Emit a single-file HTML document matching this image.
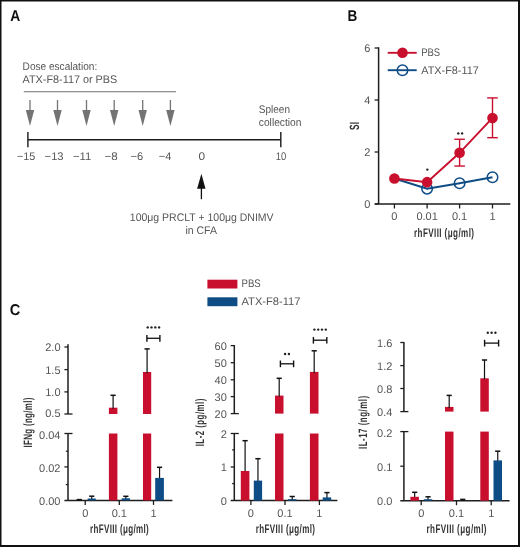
<!DOCTYPE html>
<html><head><meta charset="utf-8">
<style>
html,body{margin:0;padding:0;background:#fff;}
body{width:520px;height:547px;overflow:hidden;}
svg{display:block;will-change:transform;font-family:"Liberation Sans",sans-serif;text-rendering:geometricPrecision;}
.t{fill:#555555;font-size:11px;}
.lb{fill:#111;font-weight:bold;font-size:15.6px;}
.cb{fill:#333;font-weight:bold;font-size:11px;}
</style></head>
<body>
<svg width="520" height="547" viewBox="0 0 520 547">
<rect x="0" y="0" width="520" height="547" fill="#fff"/>
<rect x="0" y="0" width="520" height="1.5" fill="#111"/>
<rect x="0" y="0" width="1.5" height="547" fill="#111"/>
<rect x="518" y="0" width="2" height="547" fill="#111"/>
<rect x="0" y="545" width="520" height="2" fill="#111"/>

<text class="lb" x="10.2" y="21" textLength="10.0" lengthAdjust="spacingAndGlyphs">A</text>
<text class="t" x="22.6" y="69.7" textLength="74.6" lengthAdjust="spacingAndGlyphs">Dose escalation:</text>
<text class="t" x="22.6" y="82.8" textLength="94.6" lengthAdjust="spacingAndGlyphs">ATX-F8-117 or PBS</text>
<line x1="23.80" y1="91.70" x2="176.00" y2="91.70" stroke="#707070" stroke-width="1.1"/>
<line x1="30.00" y1="100.00" x2="30.00" y2="111.00" stroke="#747474" stroke-width="1.3"/>
<polygon points="25.80,110 34.20,110 30.00,126" fill="#747474"/>
<line x1="57.50" y1="100.00" x2="57.50" y2="111.00" stroke="#747474" stroke-width="1.3"/>
<polygon points="53.30,110 61.70,110 57.50,126" fill="#747474"/>
<line x1="86.50" y1="100.00" x2="86.50" y2="111.00" stroke="#747474" stroke-width="1.3"/>
<polygon points="82.30,110 90.70,110 86.50,126" fill="#747474"/>
<line x1="114.20" y1="100.00" x2="114.20" y2="111.00" stroke="#747474" stroke-width="1.3"/>
<polygon points="110.00,110 118.40,110 114.20,126" fill="#747474"/>
<line x1="142.70" y1="100.00" x2="142.70" y2="111.00" stroke="#747474" stroke-width="1.3"/>
<polygon points="138.50,110 146.90,110 142.70,126" fill="#747474"/>
<line x1="170.40" y1="100.00" x2="170.40" y2="111.00" stroke="#747474" stroke-width="1.3"/>
<polygon points="166.20,110 174.60,110 170.40,126" fill="#747474"/>
<line x1="27.90" y1="139.70" x2="280.80" y2="139.70" stroke="#1a1a1a" stroke-width="1.6"/>
<line x1="27.90" y1="132.00" x2="27.90" y2="147.20" stroke="#1a1a1a" stroke-width="1.4"/>
<line x1="280.80" y1="132.00" x2="280.80" y2="147.20" stroke="#1a1a1a" stroke-width="1.4"/>
<text class="t" x="17" y="160.2" textLength="18.4" lengthAdjust="spacingAndGlyphs">−15</text>
<text class="t" x="44.6" y="160.2" textLength="19" lengthAdjust="spacingAndGlyphs">−13</text>
<text class="t" x="73" y="160.2" textLength="18.4" lengthAdjust="spacingAndGlyphs">−11</text>
<text class="t" x="104.6" y="160.2" textLength="13.2" lengthAdjust="spacingAndGlyphs">−8</text>
<text class="t" x="130.6" y="160.2" textLength="12.6" lengthAdjust="spacingAndGlyphs">−6</text>
<text class="t" x="158.7" y="160.2" textLength="12.6" lengthAdjust="spacingAndGlyphs">−4</text>
<text class="t" x="198.6" y="160.2" textLength="6.6" lengthAdjust="spacingAndGlyphs">0</text>
<text class="t" x="275.7" y="160.2" textLength="10.5" lengthAdjust="spacingAndGlyphs">10</text>
<text class="t" x="258.8" y="113.4" textLength="31.2" lengthAdjust="spacingAndGlyphs">Spleen</text>
<text class="t" x="258.8" y="126.2" textLength="42.7" lengthAdjust="spacingAndGlyphs">collection</text>
<text class="t" x="129.8" y="220.9" textLength="143.8" lengthAdjust="spacingAndGlyphs">100μg PRCLT + 100μg DNIMV</text>
<text class="t" x="185.4" y="234.3" textLength="31.6" lengthAdjust="spacingAndGlyphs">in CFA</text>
<line x1="201.40" y1="186.00" x2="201.40" y2="199.20" stroke="#111" stroke-width="1.3"/>
<polygon points="197.1,188.8 201.4,173.8 205.5,188.8" fill="#111"/>
<text class="lb" x="347.6" y="21" textLength="9.8" lengthAdjust="spacingAndGlyphs">B</text>
<line x1="378.60" y1="47.30" x2="378.60" y2="204.00" stroke="#1e1e1e" stroke-width="1.5"/>
<line x1="374.80" y1="204.00" x2="510.30" y2="204.00" stroke="#1e1e1e" stroke-width="1.5"/>
<line x1="374.60" y1="204.00" x2="378.60" y2="204.00" stroke="#1e1e1e" stroke-width="1.3"/>
<text class="t" x="370.4" y="207.9" text-anchor="end">0</text>
<line x1="374.60" y1="152.00" x2="378.60" y2="152.00" stroke="#1e1e1e" stroke-width="1.3"/>
<text class="t" x="370.4" y="155.9" text-anchor="end">2</text>
<line x1="374.60" y1="100.00" x2="378.60" y2="100.00" stroke="#1e1e1e" stroke-width="1.3"/>
<text class="t" x="370.4" y="103.9" text-anchor="end">4</text>
<line x1="374.60" y1="48.00" x2="378.60" y2="48.00" stroke="#1e1e1e" stroke-width="1.3"/>
<text class="t" x="370.4" y="51.9" text-anchor="end">6</text>
<line x1="394.40" y1="204.00" x2="394.40" y2="208.50" stroke="#1e1e1e" stroke-width="1.3"/>
<line x1="427.10" y1="204.00" x2="427.10" y2="208.50" stroke="#1e1e1e" stroke-width="1.3"/>
<line x1="459.60" y1="204.00" x2="459.60" y2="208.50" stroke="#1e1e1e" stroke-width="1.3"/>
<line x1="492.50" y1="204.00" x2="492.50" y2="208.50" stroke="#1e1e1e" stroke-width="1.3"/>
<text class="t" x="394.4" y="220.3" text-anchor="middle">0</text>
<text class="t" x="427.1" y="220.3" text-anchor="middle">0.01</text>
<text class="t" x="459.6" y="220.3" text-anchor="middle">0.1</text>
<text class="t" x="492.5" y="220.3" text-anchor="middle">1</text>
<text transform="translate(414,236.9) scale(0.65,1)" style="font-size:12.4px;font-weight:bold;fill:#333" textLength="92.31" lengthAdjust="spacing">rhFVIII (μg/ml)</text>
<text transform="translate(359.1,129.9) rotate(-90) scale(0.62,1)" style="font-size:13.4px;font-weight:bold;fill:#333" textLength="12.74" lengthAdjust="spacing">SI</text>
<line x1="387.70" y1="52.80" x2="416.70" y2="52.80" stroke="#C8102E" stroke-width="1.9"/>
<circle cx="402.5" cy="52.8" r="5.3" fill="#C8102E"/>
<text class="t" x="421.2" y="56" textLength="19" lengthAdjust="spacingAndGlyphs">PBS</text>
<line x1="387.70" y1="70.20" x2="416.70" y2="70.20" stroke="#0E4C85" stroke-width="1.9"/>
<circle cx="402.5" cy="70.2" r="5.25" fill="none" stroke="#0E4C85" stroke-width="1.5"/>
<text class="t" x="421.2" y="74.2" textLength="57.6" lengthAdjust="spacingAndGlyphs">ATX-F8-117</text>
<polyline points="394.40,178.52 427.10,188.66 459.60,183.20 492.50,177.22" fill="none" stroke="#0E4C85" stroke-width="2.0"/>
<circle cx="427.1" cy="188.66" r="5.25" fill="none" stroke="#0E4C85" stroke-width="1.5"/>
<circle cx="459.6" cy="183.20" r="5.25" fill="none" stroke="#0E4C85" stroke-width="1.5"/>
<circle cx="492.5" cy="177.22" r="5.25" fill="none" stroke="#0E4C85" stroke-width="1.5"/>
<line x1="459.60" y1="139.26" x2="459.60" y2="166.04" stroke="#C8102E" stroke-width="1.4"/>
<line x1="454.30" y1="139.26" x2="464.90" y2="139.26" stroke="#C8102E" stroke-width="1.4"/>
<line x1="454.30" y1="166.04" x2="464.90" y2="166.04" stroke="#C8102E" stroke-width="1.4"/>
<line x1="492.50" y1="97.92" x2="492.50" y2="137.70" stroke="#C8102E" stroke-width="1.4"/>
<line x1="487.20" y1="97.92" x2="497.80" y2="97.92" stroke="#C8102E" stroke-width="1.4"/>
<line x1="487.20" y1="137.70" x2="497.80" y2="137.70" stroke="#C8102E" stroke-width="1.4"/>
<polyline points="394.40,178.52 427.10,182.16 459.60,152.78 492.50,117.94" fill="none" stroke="#C8102E" stroke-width="1.9"/>
<circle cx="394.4" cy="178.52" r="5.3" fill="#C8102E"/>
<circle cx="427.1" cy="182.16" r="5.3" fill="#C8102E"/>
<circle cx="459.6" cy="152.78" r="5.3" fill="#C8102E"/>
<circle cx="492.5" cy="117.94" r="5.3" fill="#C8102E"/>
<circle cx="427.30" cy="169.60" r="1.2" fill="#222"/>
<circle cx="458.30" cy="133.40" r="1.2" fill="#222"/>
<circle cx="462.10" cy="133.40" r="1.2" fill="#222"/>
<text class="lb" x="9.8" y="315.2" textLength="10.6" lengthAdjust="spacingAndGlyphs">C</text>
<rect x="207.40" y="279.70" width="30.00" height="8.80" fill="#C8102E"/>
<rect x="207.40" y="297.30" width="30.00" height="8.90" fill="#0E4C85"/>
<text class="t" x="241.5" y="287.3" textLength="19.2" lengthAdjust="spacingAndGlyphs">PBS</text>
<text class="t" x="241.5" y="305.3" textLength="58.9" lengthAdjust="spacingAndGlyphs">ATX-F8-117</text>
<line x1="68.00" y1="344.30" x2="68.00" y2="414.00" stroke="#1e1e1e" stroke-width="1.5"/>
<line x1="68.00" y1="433.50" x2="68.00" y2="500.40" stroke="#1e1e1e" stroke-width="1.5"/>
<line x1="64.40" y1="500.40" x2="172.40" y2="500.40" stroke="#1e1e1e" stroke-width="1.5"/>
<line x1="64.40" y1="414.00" x2="72.50" y2="414.00" stroke="#1e1e1e" stroke-width="1.3"/>
<line x1="64.40" y1="433.50" x2="72.50" y2="433.50" stroke="#1e1e1e" stroke-width="1.3"/>
<line x1="64.40" y1="347.00" x2="68.00" y2="347.00" stroke="#1e1e1e" stroke-width="1.3"/>
<text class="t" x="60.5" y="350.9" text-anchor="end">2.0</text>
<line x1="64.40" y1="369.60" x2="68.00" y2="369.60" stroke="#1e1e1e" stroke-width="1.3"/>
<text class="t" x="60.5" y="374.0" text-anchor="end">1.5</text>
<line x1="64.40" y1="391.90" x2="68.00" y2="391.90" stroke="#1e1e1e" stroke-width="1.3"/>
<text class="t" x="60.5" y="395.79999999999995" text-anchor="end">1.0</text>
<text class="t" x="60.5" y="416.9" text-anchor="end">0.5</text>
<text class="t" x="60.5" y="439.4" text-anchor="end">0.04</text>
<line x1="64.40" y1="466.90" x2="68.00" y2="466.90" stroke="#1e1e1e" stroke-width="1.3"/>
<text class="t" x="60.5" y="471.79999999999995" text-anchor="end">0.02</text>
<text class="t" x="60.5" y="504.79999999999995" text-anchor="end">0.00</text>
<line x1="65.80" y1="451.20" x2="68.00" y2="451.20" stroke="#1e1e1e" stroke-width="1.2"/>
<line x1="65.80" y1="484.60" x2="68.00" y2="484.60" stroke="#1e1e1e" stroke-width="1.2"/>
<line x1="85.20" y1="500.40" x2="85.20" y2="504.90" stroke="#1e1e1e" stroke-width="1.3"/>
<text class="t" x="85.2" y="517.2" text-anchor="middle">0</text>
<line x1="119.30" y1="500.40" x2="119.30" y2="504.90" stroke="#1e1e1e" stroke-width="1.3"/>
<text class="t" x="119.3" y="517.2" text-anchor="middle">0.1</text>
<line x1="153.50" y1="500.40" x2="153.50" y2="504.90" stroke="#1e1e1e" stroke-width="1.3"/>
<text class="t" x="153.5" y="517.2" text-anchor="middle">1</text>
<text transform="translate(90,533.1) scale(0.65,1)" style="font-size:12.4px;font-weight:bold;fill:#333" textLength="90.46" lengthAdjust="spacing">rhFVIII (μg/ml)</text>
<text transform="translate(32.3,447.5) rotate(-90) scale(0.65,1)" style="font-size:12.1px;font-weight:bold;fill:#333" textLength="76.62" lengthAdjust="spacing">IFNg (ng/ml)</text>
<line x1="79.25" y1="499.60" x2="79.25" y2="500.60" stroke="#111" stroke-width="1.2"/>
<line x1="76.65" y1="499.60" x2="81.85" y2="499.60" stroke="#111" stroke-width="1.5"/>
<line x1="91.75" y1="496.20" x2="91.75" y2="499.50" stroke="#111" stroke-width="1.2"/>
<line x1="89.15" y1="496.20" x2="94.35" y2="496.20" stroke="#111" stroke-width="1.5"/>
<rect x="87.70" y="498.50" width="8.10" height="1.90" fill="#0E4C85"/>
<line x1="125.85" y1="496.30" x2="125.85" y2="499.30" stroke="#111" stroke-width="1.2"/>
<line x1="123.25" y1="496.30" x2="128.45" y2="496.30" stroke="#111" stroke-width="1.5"/>
<rect x="121.70" y="498.30" width="8.30" height="2.10" fill="#0E4C85"/>
<line x1="159.55" y1="467.30" x2="159.55" y2="478.90" stroke="#111" stroke-width="1.2"/>
<line x1="156.95" y1="467.30" x2="162.15" y2="467.30" stroke="#111" stroke-width="1.5"/>
<rect x="155.20" y="477.90" width="8.70" height="22.50" fill="#0E4C85"/>
<rect x="108.90" y="407.70" width="8.50" height="6.30" fill="#C8102E"/>
<rect x="143.00" y="372.00" width="8.20" height="42.00" fill="#C8102E"/>
<rect x="108.90" y="433.50" width="8.50" height="66.90" fill="#C8102E"/>
<rect x="143.00" y="433.50" width="8.20" height="66.90" fill="#C8102E"/>
<line x1="113.10" y1="395.30" x2="113.10" y2="408.70" stroke="#111" stroke-width="1.2"/>
<line x1="110.50" y1="395.30" x2="115.70" y2="395.30" stroke="#111" stroke-width="1.5"/>
<line x1="147.10" y1="348.90" x2="147.10" y2="373.00" stroke="#111" stroke-width="1.2"/>
<line x1="144.50" y1="348.90" x2="149.70" y2="348.90" stroke="#111" stroke-width="1.5"/>
<line x1="146.90" y1="338.30" x2="159.90" y2="338.30" stroke="#111" stroke-width="1.3"/>
<line x1="146.90" y1="335.00" x2="146.90" y2="341.70" stroke="#111" stroke-width="1.4"/>
<line x1="159.90" y1="335.00" x2="159.90" y2="341.70" stroke="#111" stroke-width="1.4"/>
<circle cx="147.70" cy="327.40" r="1.2" fill="#222"/>
<circle cx="151.50" cy="327.40" r="1.2" fill="#222"/>
<circle cx="155.30" cy="327.40" r="1.2" fill="#222"/>
<circle cx="159.10" cy="327.40" r="1.2" fill="#222"/>
<line x1="234.30" y1="345.00" x2="234.30" y2="413.60" stroke="#1e1e1e" stroke-width="1.5"/>
<line x1="234.30" y1="433.50" x2="234.30" y2="500.60" stroke="#1e1e1e" stroke-width="1.5"/>
<line x1="230.70" y1="500.60" x2="337.40" y2="500.60" stroke="#1e1e1e" stroke-width="1.5"/>
<line x1="230.70" y1="413.60" x2="238.80" y2="413.60" stroke="#1e1e1e" stroke-width="1.3"/>
<line x1="230.70" y1="433.50" x2="238.80" y2="433.50" stroke="#1e1e1e" stroke-width="1.3"/>
<line x1="230.70" y1="345.60" x2="234.30" y2="345.60" stroke="#1e1e1e" stroke-width="1.3"/>
<text class="t" x="226.8" y="350.0" text-anchor="end">60</text>
<line x1="230.70" y1="362.70" x2="234.30" y2="362.70" stroke="#1e1e1e" stroke-width="1.3"/>
<text class="t" x="226.8" y="367.09999999999997" text-anchor="end">50</text>
<line x1="230.70" y1="379.80" x2="234.30" y2="379.80" stroke="#1e1e1e" stroke-width="1.3"/>
<text class="t" x="226.8" y="384.2" text-anchor="end">40</text>
<line x1="230.70" y1="396.60" x2="234.30" y2="396.60" stroke="#1e1e1e" stroke-width="1.3"/>
<text class="t" x="226.8" y="401.0" text-anchor="end">30</text>
<text class="t" x="226.8" y="418.0" text-anchor="end">20</text>
<text class="t" x="226.8" y="437.9" text-anchor="end">2</text>
<line x1="230.70" y1="467.00" x2="234.30" y2="467.00" stroke="#1e1e1e" stroke-width="1.3"/>
<text class="t" x="226.8" y="471.4" text-anchor="end">1</text>
<text class="t" x="226.8" y="505.0" text-anchor="end">0</text>
<line x1="232.10" y1="449.90" x2="234.30" y2="449.90" stroke="#1e1e1e" stroke-width="1.2"/>
<line x1="232.10" y1="483.60" x2="234.30" y2="483.60" stroke="#1e1e1e" stroke-width="1.2"/>
<line x1="250.90" y1="500.60" x2="250.90" y2="505.10" stroke="#1e1e1e" stroke-width="1.3"/>
<text class="t" x="250.9" y="517.2" text-anchor="middle">0</text>
<line x1="285.00" y1="500.60" x2="285.00" y2="505.10" stroke="#1e1e1e" stroke-width="1.3"/>
<text class="t" x="285.0" y="517.2" text-anchor="middle">0.1</text>
<line x1="319.40" y1="500.60" x2="319.40" y2="505.10" stroke="#1e1e1e" stroke-width="1.3"/>
<text class="t" x="319.4" y="517.2" text-anchor="middle">1</text>
<text transform="translate(255.7,533.1) scale(0.65,1)" style="font-size:12.4px;font-weight:bold;fill:#333" textLength="91.23" lengthAdjust="spacing">rhFVIII (μg/ml)</text>
<text transform="translate(203.9,446.3) rotate(-90) scale(0.65,1)" style="font-size:12.1px;font-weight:bold;fill:#333" textLength="73.23" lengthAdjust="spacing">IL-2 (pg/ml)</text>
<line x1="245.10" y1="440.70" x2="245.10" y2="472.00" stroke="#111" stroke-width="1.2"/>
<line x1="242.50" y1="440.70" x2="247.70" y2="440.70" stroke="#111" stroke-width="1.5"/>
<rect x="240.80" y="471.00" width="8.60" height="29.60" fill="#C8102E"/>
<line x1="257.95" y1="458.70" x2="257.95" y2="481.60" stroke="#111" stroke-width="1.2"/>
<line x1="255.35" y1="458.70" x2="260.55" y2="458.70" stroke="#111" stroke-width="1.5"/>
<rect x="253.80" y="480.60" width="8.30" height="20.00" fill="#0E4C85"/>
<line x1="292.25" y1="496.50" x2="292.25" y2="500.20" stroke="#111" stroke-width="1.2"/>
<line x1="289.65" y1="496.50" x2="294.85" y2="496.50" stroke="#111" stroke-width="1.5"/>
<rect x="288.00" y="499.20" width="8.50" height="1.40" fill="#0E4C85"/>
<line x1="326.95" y1="492.60" x2="326.95" y2="498.40" stroke="#111" stroke-width="1.2"/>
<line x1="324.35" y1="492.60" x2="329.55" y2="492.60" stroke="#111" stroke-width="1.5"/>
<rect x="322.70" y="497.40" width="8.50" height="3.20" fill="#0E4C85"/>
<rect x="275.00" y="395.60" width="8.50" height="18.00" fill="#C8102E"/>
<rect x="309.90" y="371.90" width="8.60" height="41.70" fill="#C8102E"/>
<rect x="275.00" y="433.50" width="8.50" height="67.10" fill="#C8102E"/>
<rect x="309.90" y="433.50" width="8.60" height="67.10" fill="#C8102E"/>
<line x1="279.20" y1="378.30" x2="279.20" y2="396.60" stroke="#111" stroke-width="1.2"/>
<line x1="276.60" y1="378.30" x2="281.80" y2="378.30" stroke="#111" stroke-width="1.5"/>
<line x1="314.20" y1="350.80" x2="314.20" y2="372.90" stroke="#111" stroke-width="1.2"/>
<line x1="311.60" y1="350.80" x2="316.80" y2="350.80" stroke="#111" stroke-width="1.5"/>
<line x1="280.40" y1="363.80" x2="293.60" y2="363.80" stroke="#111" stroke-width="1.3"/>
<line x1="280.40" y1="360.50" x2="280.40" y2="367.20" stroke="#111" stroke-width="1.4"/>
<line x1="293.60" y1="360.50" x2="293.60" y2="367.20" stroke="#111" stroke-width="1.4"/>
<circle cx="285.10" cy="354.00" r="1.2" fill="#222"/>
<circle cx="288.90" cy="354.00" r="1.2" fill="#222"/>
<line x1="313.40" y1="340.20" x2="326.80" y2="340.20" stroke="#111" stroke-width="1.3"/>
<line x1="313.40" y1="336.90" x2="313.40" y2="343.60" stroke="#111" stroke-width="1.4"/>
<line x1="326.80" y1="336.90" x2="326.80" y2="343.60" stroke="#111" stroke-width="1.4"/>
<circle cx="314.40" cy="329.60" r="1.2" fill="#222"/>
<circle cx="318.20" cy="329.60" r="1.2" fill="#222"/>
<circle cx="322.00" cy="329.60" r="1.2" fill="#222"/>
<circle cx="325.80" cy="329.60" r="1.2" fill="#222"/>
<line x1="403.90" y1="341.90" x2="403.90" y2="411.60" stroke="#1e1e1e" stroke-width="1.5"/>
<line x1="403.90" y1="431.60" x2="403.90" y2="500.70" stroke="#1e1e1e" stroke-width="1.5"/>
<line x1="400.30" y1="500.70" x2="509.60" y2="500.70" stroke="#1e1e1e" stroke-width="1.5"/>
<line x1="400.30" y1="411.60" x2="408.40" y2="411.60" stroke="#1e1e1e" stroke-width="1.3"/>
<line x1="400.30" y1="431.60" x2="408.40" y2="431.60" stroke="#1e1e1e" stroke-width="1.3"/>
<line x1="400.30" y1="342.50" x2="403.90" y2="342.50" stroke="#1e1e1e" stroke-width="1.3"/>
<text class="t" x="392.4" y="347.4" text-anchor="end">1.6</text>
<line x1="400.30" y1="365.60" x2="403.90" y2="365.60" stroke="#1e1e1e" stroke-width="1.3"/>
<text class="t" x="392.4" y="370.0" text-anchor="end">1.2</text>
<line x1="400.30" y1="388.50" x2="403.90" y2="388.50" stroke="#1e1e1e" stroke-width="1.3"/>
<text class="t" x="392.4" y="392.9" text-anchor="end">0.8</text>
<text class="t" x="392.4" y="415.8" text-anchor="end">0.4</text>
<text class="t" x="392.4" y="437.0" text-anchor="end">0.2</text>
<line x1="400.30" y1="466.20" x2="403.90" y2="466.20" stroke="#1e1e1e" stroke-width="1.3"/>
<text class="t" x="392.4" y="470.59999999999997" text-anchor="end">0.1</text>
<text class="t" x="392.4" y="504.9" text-anchor="end">0.0</text>
<line x1="421.20" y1="500.70" x2="421.20" y2="505.20" stroke="#1e1e1e" stroke-width="1.3"/>
<text class="t" x="421.2" y="517.2" text-anchor="middle">0</text>
<line x1="456.50" y1="500.70" x2="456.50" y2="505.20" stroke="#1e1e1e" stroke-width="1.3"/>
<text class="t" x="456.5" y="517.2" text-anchor="middle">0.1</text>
<line x1="491.20" y1="500.70" x2="491.20" y2="505.20" stroke="#1e1e1e" stroke-width="1.3"/>
<text class="t" x="491.2" y="517.2" text-anchor="middle">1</text>
<text transform="translate(426.5,533.1) scale(0.65,1)" style="font-size:12.4px;font-weight:bold;fill:#333" textLength="92.31" lengthAdjust="spacing">rhFVIII (μg/ml)</text>
<text transform="translate(367.0,449.1) rotate(-90) scale(0.65,1)" style="font-size:12.1px;font-weight:bold;fill:#333" textLength="82.00" lengthAdjust="spacing">IL-17 (ng/ml)</text>
<line x1="414.65" y1="492.30" x2="414.65" y2="497.80" stroke="#111" stroke-width="1.2"/>
<line x1="412.05" y1="492.30" x2="417.25" y2="492.30" stroke="#111" stroke-width="1.5"/>
<rect x="410.40" y="496.80" width="8.50" height="3.90" fill="#C8102E"/>
<line x1="428.05" y1="496.80" x2="428.05" y2="500.20" stroke="#111" stroke-width="1.2"/>
<line x1="425.45" y1="496.80" x2="430.65" y2="496.80" stroke="#111" stroke-width="1.5"/>
<rect x="423.80" y="499.20" width="8.50" height="1.50" fill="#0E4C85"/>
<line x1="462.75" y1="499.40" x2="462.75" y2="501.00" stroke="#111" stroke-width="1.2"/>
<line x1="460.15" y1="499.40" x2="465.35" y2="499.40" stroke="#111" stroke-width="1.5"/>
<line x1="497.75" y1="451.20" x2="497.75" y2="461.40" stroke="#111" stroke-width="1.2"/>
<line x1="495.15" y1="451.20" x2="500.35" y2="451.20" stroke="#111" stroke-width="1.5"/>
<rect x="493.50" y="460.40" width="8.50" height="40.30" fill="#0E4C85"/>
<rect x="445.00" y="406.90" width="8.50" height="4.70" fill="#C8102E"/>
<rect x="480.30" y="378.30" width="8.50" height="33.30" fill="#C8102E"/>
<rect x="445.00" y="431.60" width="8.50" height="69.10" fill="#C8102E"/>
<rect x="480.30" y="431.60" width="8.50" height="69.10" fill="#C8102E"/>
<line x1="449.20" y1="395.40" x2="449.20" y2="407.90" stroke="#111" stroke-width="1.2"/>
<line x1="446.60" y1="395.40" x2="451.80" y2="395.40" stroke="#111" stroke-width="1.5"/>
<line x1="484.50" y1="360.00" x2="484.50" y2="379.30" stroke="#111" stroke-width="1.2"/>
<line x1="481.90" y1="360.00" x2="487.10" y2="360.00" stroke="#111" stroke-width="1.5"/>
<line x1="484.60" y1="343.10" x2="498.60" y2="343.10" stroke="#111" stroke-width="1.3"/>
<line x1="484.60" y1="339.80" x2="484.60" y2="346.50" stroke="#111" stroke-width="1.4"/>
<line x1="498.60" y1="339.80" x2="498.60" y2="346.50" stroke="#111" stroke-width="1.4"/>
<circle cx="487.80" cy="332.70" r="1.2" fill="#222"/>
<circle cx="491.60" cy="332.70" r="1.2" fill="#222"/>
<circle cx="495.40" cy="332.70" r="1.2" fill="#222"/>
</svg>
</body></html>
